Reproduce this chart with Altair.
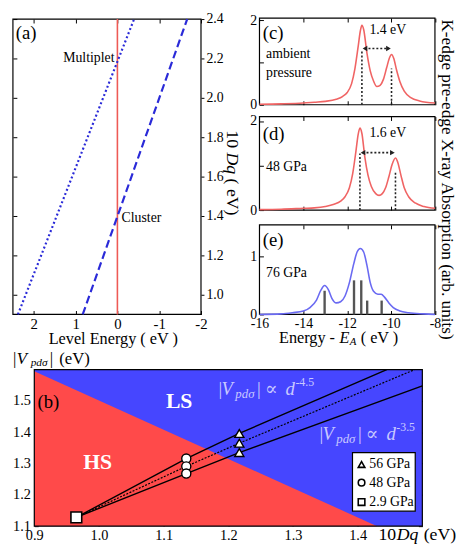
import altair as alt
import pandas as pd

SERIF = "Liberation Serif"
RED_LINE = "#ee5a55"
BLUE_LINE = "#2a2ad8"
SPEC_RED = "#f06464"
SPEC_BLUE = "#6a6af2"
BG_RED = "#ff4a4a"
BG_BLUE = "#4646ff"
LABEL_LAV = "#c9c9ff"

# ---------------- panel (a) ----------------
a_multiplet_energy = [2.38, -0.40]
a_multiplet_dq = [0.90, 2.40]
a_cluster_energy = [0.83, -1.67]
a_cluster_dq = [0.90, 2.40]
a_zero_energy = [0.0]
a_xticks = [2, 1, 0, -1, -2]
a_yticks = [1.0, 1.2, 1.4, 1.6, 1.8, 2.0, 2.2, 2.4]

# ---------------- panels (c), (d), (e) ----------------
spec_xticks = [-16, -14, -12, -10, -8]
c_energy = [-16, -15, -14, -13.5, -13, -12.5, -12.2, -12.0, -11.8, -11.65, -11.5, -11.4,
            -11.33, -11.25, -11.1, -10.95, -10.8, -10.65, -10.5, -10.35, -10.2, -10.08,
            -9.98, -9.88, -9.75, -9.6, -9.4, -9.1, -8.7, -8.0]
c_intensity = [0.01, 0.02, 0.04, 0.06, 0.08, 0.13, 0.20, 0.29, 0.50, 0.85, 1.38, 1.75,
               1.88, 1.78, 1.22, 0.80, 0.56, 0.43, 0.46, 0.60, 0.88, 1.10,
               1.19, 1.10, 0.82, 0.55, 0.32, 0.17, 0.09, 0.04]
c_peaks = [-11.33, -9.98]
c_peak_tops = [1.30, 0.86]
c_arrow_y = [1.33]

d_energy = [-16, -15, -14, -13.5, -13, -12.6, -12.3, -12.1, -11.9, -11.75, -11.6, -11.5,
            -11.42, -11.33, -11.2, -11.05, -10.9, -10.7, -10.55, -10.4, -10.25, -10.1,
            -9.95, -9.8, -9.7, -9.55, -9.4, -9.2, -8.9, -8.5, -8.0]
d_intensity = [0.01, 0.02, 0.04, 0.05, 0.08, 0.13, 0.20, 0.30, 0.50, 0.82, 1.33, 1.70,
               1.84, 1.72, 1.20, 0.78, 0.53, 0.37, 0.33, 0.37, 0.50, 0.75,
               1.03, 1.17, 1.08, 0.78, 0.50, 0.30, 0.16, 0.08, 0.04]
d_peaks = [-11.42, -9.80]
d_peak_tops = [1.27, 0.85]
d_arrow_y = [1.29]

e_energy = [-16, -15, -14.5, -14, -13.7, -13.4, -13.2, -13.03, -12.85, -12.7, -12.5, -12.3,
            -12.1, -11.9, -11.7, -11.55, -11.4, -11.25, -11.1, -10.95, -10.8, -10.6,
            -10.45, -10.3, -10.1, -9.9, -9.6, -9.2, -8.5, -8.0]
e_intensity = [0.0, 0.01, 0.03, 0.06, 0.12, 0.25, 0.42, 0.50, 0.42, 0.28, 0.20, 0.22,
               0.32, 0.55, 0.88, 1.08, 1.14, 1.08, 0.85, 0.55, 0.40, 0.35,
               0.35, 0.30, 0.20, 0.12, 0.06, 0.03, 0.01, 0.0]
e_stick_energy = [-13.03, -11.69, -11.36, -11.09, -10.43]
e_stick_height = [0.41, 0.59, 0.59, 0.24, 0.24]

# ---------------- panel (b) ----------------
b_xticks = [0.9, 1.0, 1.1, 1.2, 1.3, 1.4]
b_yticks = [1.1, 1.2, 1.3, 1.4, 1.5]
b_boundary_dq = [0.90, 1.43]
b_boundary_v = [1.595, 1.10]
b_upper_dq = [0.965, 1.135, 1.217, 1.445]
b_upper_v = [1.128, 1.316, 1.396, 1.60]
b_mid_dq = [0.965, 1.135, 1.217, 1.488]
b_mid_v = [1.128, 1.291, 1.365, 1.60]
b_lower_dq = [0.965, 1.135, 1.217, 1.50]
b_lower_v = [1.128, 1.268, 1.335, 1.548]
b_56_dq = [1.217, 1.217, 1.217]
b_56_v = [1.396, 1.365, 1.335]
b_48_dq = [1.135, 1.135, 1.135]
b_48_v = [1.316, 1.291, 1.268]
b_29_dq = [0.965]
b_29_v = [1.128]
legend_labels = ["56 GPa", "48 GPa", "2.9 GPa"]

# ---------------- layout (pixels inside one view) ----------------
W, H = 456, 542


def X(x):
    return round((x - 5) * 0.99, 1)


def Y(y):
    return round(y - 8, 1)


A_X0, A_X1, A_Y0, A_Y1 = X(10), X(203), Y(13), Y(313)
R_X0, R_X1 = X(263), X(443)
C_Y0, C_Y1 = Y(12), Y(100)
D_Y0, D_Y1 = Y(112), Y(207)
E_Y0, E_Y1 = Y(222), Y(313)
B_X0, B_X1, B_Y0, B_Y1 = X(32), X(430), Y(369), Y(528)


def df(x, y, **extra):
    d = {"x": x, "y": y}
    d.update(extra)
    return pd.DataFrame(d)


def lab_axis(orient, offset, values, fmt=None, expr=None, size=14, pad=3,
             ticks=False, tick_size=3):
    kw = dict(orient=orient, offset=offset, values=values, title=None, grid=False,
              domain=False, labelFont=SERIF, labelFontSize=size, labelPadding=pad,
              labelColor="black", ticks=ticks, labelFlush=False, labelOverlap=False)
    if ticks:
        kw.update(tickSize=tick_size, tickColor="black", tickWidth=1)
    if fmt:
        kw["format"] = fmt
    if expr:
        kw["labelExpr"] = expr
    return alt.Axis(**kw)


def tick_axis(orient, offset, values, size=4):
    return alt.Axis(orient=orient, offset=offset, values=values, title=None, grid=False,
                    domain=False, labels=False, ticks=True, tickSize=size,
                    tickColor="black", tickWidth=1)


def carrier(sx, sy, xv, yv, xaxis=None, yaxis=None):
    return alt.Chart(df([xv], [yv])).mark_point(opacity=0, size=1).encode(
        x=alt.X("x:Q", scale=sx, axis=xaxis), y=alt.Y("y:Q", scale=sy, axis=yaxis))


def ptext(x, y, t, size=16, angle=0, align="left", style="normal", weight="normal",
          color="black", font=SERIF, baseline="middle"):
    kw = dict(fontSize=size, align=align, baseline=baseline, fontStyle=style,
              fontWeight=weight, color=color, font=font)
    if angle:
        kw["angle"] = angle
    return alt.Chart(pd.DataFrame({"t": [t]})).mark_text(**kw).encode(
        x=alt.value(x), y=alt.value(y), text="t:N")


def dtext(sx, sy, x, y, t, size=14, align="left", color="black", style="normal",
          weight="normal", dx=0, dy=0, font=SERIF):
    return alt.Chart(df([x], [y], t=[t])).mark_text(
        fontSize=size, align=align, baseline="middle", font=font, color=color,
        fontStyle=style, fontWeight=weight, dx=dx, dy=dy).encode(
        x=alt.X("x:Q", scale=sx, axis=None), y=alt.Y("y:Q", scale=sy, axis=None),
        text="t:N")


def frame(sx, sy, x0, x1, y0, y1, fill="transparent"):
    return alt.Chart(pd.DataFrame({"x": [x0], "x2": [x1], "y": [y0], "y2": [y1]})).mark_rect(
        fill=fill, stroke="black", strokeWidth=1.2).encode(
        x=alt.X("x:Q", scale=sx, axis=None), x2="x2:Q",
        y=alt.Y("y:Q", scale=sy, axis=None), y2="y2:Q")


layers = []

# ================= panel (a) =================
sa_x = alt.Scale(domain=[-2, 2.5], range=[A_X1, A_X0])
sa_y = alt.Scale(domain=[0.9, 2.4], range=[A_Y1, A_Y0])
ax = lambda axis=None: alt.X("x:Q", scale=sa_x, axis=axis)
ay = lambda axis=None: alt.Y("y:Q", scale=sa_y, axis=axis)

layers += [
    frame(sa_x, sa_y, -2, 2.5, 0.9, 2.4),
    alt.Chart(df(a_zero_energy, [0.9], y2=[2.4])).mark_rule(
        color=RED_LINE, strokeWidth=1.6).encode(x=ax(), y=ay(), y2="y2:Q"),
    alt.Chart(df(a_multiplet_energy, a_multiplet_dq)).mark_line(
        color=BLUE_LINE, strokeWidth=2.2, strokeDash=[2, 2.5]).encode(x=ax(), y=ay()),
    alt.Chart(df(a_cluster_energy, a_cluster_dq)).mark_line(
        color=BLUE_LINE, strokeWidth=2.2, strokeDash=[8, 4]).encode(x=ax(), y=ay()),
    carrier(sa_x, sa_y, 0, 1.0,
            xaxis=lab_axis("bottom", A_Y1 - H, a_xticks, expr="'' + datum.value", size=15,
                           pad=2),
            yaxis=lab_axis("right", A_X1 - W, a_yticks, fmt=".1f", size=14, pad=2,
                           ticks=True, tick_size=3)),
    carrier(sa_x, sa_y, 0, 1.0,
            xaxis=tick_axis("top", -A_Y1, a_xticks),
            yaxis=tick_axis("right", A_X0 - W, a_yticks)),
    carrier(sa_x, sa_y, 0, 1.0, xaxis=tick_axis("bottom", A_Y0 - H, a_xticks)),
    dtext(sa_x, sa_y, 2.43, 2.33, "(a)", size=19),
    dtext(sa_x, sa_y, 0.07, 2.20, "Multiplet", align="right"),
    dtext(sa_x, sa_y, -0.10, 1.39, "Cluster"),
    ptext(X(113), Y(338), "Level Energy ( eV )", size=16.5, align="center"),
    ptext(X(235), Y(126), "10", size=18, angle=90),
    ptext(X(235), Y(126) + 22.5, "Dq", size=18, angle=90, style="italic"),
    ptext(X(235), Y(126) + 49, "( eV)", size=18, angle=90),
]


# ================= spectra panels =================
def spectrum(energy, inten, color, y0, y1, ymax, yticks, peaks=None, tops=None,
             arrow_y=None, bottom_labels=False):
    sx = alt.Scale(domain=[-16, -8], range=[R_X0, R_X1])
    sy = alt.Scale(domain=[0, ymax], range=[y1, y0])
    out = [
        frame(sx, sy, -16, -8, 0, ymax),
        alt.Chart(df(energy, inten)).mark_line(
            color=color, strokeWidth=1.6, interpolate="monotone").encode(
            x=alt.X("x:Q", scale=sx, axis=None), y=alt.Y("y:Q", scale=sy, axis=None)),
        carrier(sx, sy, -12, 0,
                xaxis=(lab_axis("bottom", y1 - H, spec_xticks, expr="'' + datum.value",
                                size=14, pad=2) if bottom_labels else None),
                yaxis=lab_axis("left", -R_X0, yticks, fmt="d", size=14, pad=3)),
        carrier(sx, sy, -12, 0, xaxis=tick_axis("top", -y1, spec_xticks),
                yaxis=tick_axis("right", R_X0 - W, yticks)),
        carrier(sx, sy, -12, 0, xaxis=tick_axis("bottom", y0 - H, spec_xticks)),
    ]
    if peaks:
        enc = dict(x=alt.X("x:Q", scale=sx, axis=None), y=alt.Y("y:Q", scale=sy, axis=None))
        out += [
            alt.Chart(pd.DataFrame({"x": peaks, "y": [0, 0], "y2": tops})).mark_rule(
                color="#222222", strokeWidth=1.6, strokeDash=[2, 2]).encode(y2="y2:Q", **enc),
            alt.Chart(pd.DataFrame({"x": [peaks[0] + 0.12], "x2": [peaks[1] - 0.12],
                                    "y": arrow_y})).mark_rule(
                color="#222222", strokeWidth=1.6, strokeDash=[2, 2]).encode(x2="x2:Q", **enc),
            alt.Chart(pd.DataFrame({"x": [peaks[0] + 0.14, peaks[1] - 0.14],
                                    "y": arrow_y * 2,
                                    "sh": ["triangle-left", "triangle-right"]})).mark_point(
                filled=True, color="#222222", size=30, opacity=1).encode(
                shape=alt.Shape("sh:N", scale=None, legend=None), **enc),
        ]
    return sx, sy, out


sc_x, sc_y, lc = spectrum(c_energy, c_intensity, SPEC_RED, C_Y0, C_Y1, 2.05, [0, 1, 2],
                          c_peaks, c_peak_tops, c_arrow_y)
layers += lc + [
    dtext(sc_x, sc_y, -15.85, 1.70, "(c)", size=19),
    dtext(sc_x, sc_y, -15.7, 1.19, "ambient"),
    dtext(sc_x, sc_y, -15.7, 0.76, "pressure"),
    dtext(sc_x, sc_y, -10.15, 1.76, "1.4 eV", align="center"),
]

sd_x, sd_y, ld = spectrum(d_energy, d_intensity, SPEC_RED, D_Y0, D_Y1, 2.1, [0, 1, 2],
                          d_peaks, d_peak_tops, d_arrow_y)
layers += ld + [
    dtext(sd_x, sd_y, -15.85, 1.70, "(d)", size=19),
    dtext(sd_x, sd_y, -15.7, 0.97, "48 GPa"),
    dtext(sd_x, sd_y, -10.15, 1.72, "1.6 eV", align="center"),
]

se_x, se_y, le = spectrum(e_energy, e_intensity, SPEC_BLUE, E_Y0, E_Y1, 1.55, [0, 1],
                          bottom_labels=True)
layers += le + [
    alt.Chart(pd.DataFrame({"x": e_stick_energy, "y": [0] * 5,
                            "y2": e_stick_height})).mark_rule(
        color="#555555", strokeWidth=2.4).encode(
        x=alt.X("x:Q", scale=se_x, axis=None), y=alt.Y("y:Q", scale=se_y, axis=None),
        y2="y2:Q"),
    dtext(se_x, se_y, -15.85, 1.28, "(e)", size=19),
    dtext(se_x, se_y, -15.7, 0.71, "76 GPa"),
]
ex0 = X(283)
ey = Y(337)
layers += [
    ptext(ex0, ey, "Energy -", size=16.5),
    ptext(ex0 + 61.5, ey, "E", size=16.5, style="italic"),
    ptext(ex0 + 72, ey + 4, "A", size=11, style="italic"),
    ptext(ex0 + 83, ey, "( eV )", size=16.5),
    ptext(X(455.5), Y(176), "K-edge pre-edge X-ray Absorption (arb. units)", size=17.5,
          angle=90, align="center"),
]

# ================= panel (b) =================
sb_x = alt.Scale(domain=[0.9, 1.5], range=[B_X0, B_X1])
sb_y = alt.Scale(domain=[1.1, 1.6], range=[B_Y1, B_Y0])
bx = lambda: alt.X("x:Q", scale=sb_x, axis=None)
by = lambda: alt.Y("y:Q", scale=sb_y, axis=None)

layers += [
    alt.Chart(pd.DataFrame({"x": [0.9], "x2": [1.5], "y": [1.1], "y2": [1.6]})).mark_rect(
        color=BG_BLUE).encode(x=bx(), x2="x2:Q", y=by(), y2="y2:Q"),
    alt.Chart(df(b_boundary_dq, b_boundary_v, y2=[1.1, 1.1])).mark_area(
        color=BG_RED, opacity=1).encode(x=bx(), y=by(), y2="y2:Q"),
    alt.Chart(df(b_upper_dq, b_upper_v)).mark_line(
        color="black", strokeWidth=1.4).encode(x=bx(), y=by()),
    alt.Chart(df(b_mid_dq, b_mid_v)).mark_line(
        color="black", strokeWidth=1.2, strokeDash=[2, 1.5]).encode(x=bx(), y=by()),
    alt.Chart(df(b_lower_dq, b_lower_v)).mark_line(
        color="black", strokeWidth=1.4).encode(x=bx(), y=by()),
    alt.Chart(df(b_56_dq, b_56_v)).mark_point(
        shape="triangle-up", filled=True, fill="#fffff0", stroke="black", strokeWidth=1.4,
        size=85, opacity=1).encode(x=bx(), y=by()),
    alt.Chart(df(b_48_dq, b_48_v)).mark_point(
        shape="circle", filled=True, fill="white", stroke="black", strokeWidth=1.4,
        size=85, opacity=1).encode(x=bx(), y=by()),
    alt.Chart(df(b_29_dq, b_29_v)).mark_point(
        shape="square", filled=True, fill="white", stroke="black", strokeWidth=1.6,
        size=120, opacity=1).encode(x=bx(), y=by()),
    frame(sb_x, sb_y, 1.392, 1.489, 1.148, 1.335, fill="white"),
    alt.Chart(pd.DataFrame({"x": [1.406] * 3, "y": [1.297, 1.239, 1.177],
                            "sh": ["triangle-up", "circle", "square"]})).mark_point(
        filled=False, color="black", strokeWidth=1.6, size=45, opacity=1).encode(
        x=bx(), y=by(), shape=alt.Shape("sh:N", scale=None, legend=None)),
    alt.Chart(pd.DataFrame({"x": [1.418] * 3, "y": [1.297, 1.239, 1.177],
                            "t": legend_labels})).mark_text(
        fontSize=14, align="left", baseline="middle", font=SERIF).encode(
        x=bx(), y=by(), text="t:N"),
    frame(sb_x, sb_y, 0.9, 1.5, 1.1, 1.6),
    carrier(sb_x, sb_y, 1.2, 1.3,
            xaxis=lab_axis("bottom", B_Y1 - H, b_xticks, fmt=".1f", size=14.5, pad=3),
            yaxis=lab_axis("left", -B_X0, b_yticks, fmt=".1f", size=14.5, pad=4)),
    carrier(sb_x, sb_y, 1.2, 1.3, xaxis=tick_axis("top", -B_Y1, b_xticks),
            yaxis=tick_axis("right", B_X0 - W, b_yticks)),
    carrier(sb_x, sb_y, 1.2, 1.3, xaxis=tick_axis("bottom", B_Y0 - H, b_xticks),
            yaxis=tick_axis("left", -B_X1, b_yticks)),
    dtext(sb_x, sb_y, 1.124, 1.50, "LS", size=22, weight="bold", color="white", align="center"),
    dtext(sb_x, sb_y, 0.998, 1.303, "HS", size=22, weight="bold", color="white", align="center"),
    dtext(sb_x, sb_y, 0.905, 1.497, "(b)", size=19),
]


def formula(x, y, exp):
    parts = [("|", 0, 0, 19, "normal", SERIF), ("V", 3, 0, 19, "italic", SERIF),
             ("pdσ", 17, 5, 13, "italic", SERIF), ("|", 39, 0, 19, "normal", SERIF),
             ("∝", 47, 0, 19, "normal", "DejaVu Serif"), ("d", 68, 0, 19, "italic", SERIF),
             (exp, 78, -7, 12, "normal", SERIF)]
    return [dtext(sb_x, sb_y, x, y, t, size=s, style=st, font=f, color=LABEL_LAV,
                  dx=dx, dy=dy) for t, dx, dy, s, st, f in parts]


layers += formula(1.185, 1.537, "-4.5") + formula(1.341, 1.394, "-3.5")

ty = Y(358)
tx = X(10)
layers += [
    ptext(tx, ty, "|", size=17),
    ptext(tx + 4, ty, "V", size=17, style="italic"),
    ptext(tx + 18, ty + 4, "pdσ", size=11.5, style="italic"),
    ptext(tx + 37.5, ty, "|", size=17),
    ptext(tx + 47, ty, "(eV)", size=17),
    ptext(X(385), Y(537), "10", size=18),
    ptext(X(385) + 18.5, Y(537), "Dq", size=18, style="italic"),
    ptext(X(385) + 46, Y(537), "(eV)", size=18),
]

chart = alt.layer(*layers).resolve_scale(
    x="independent", y="independent"
).properties(
    width=W, height=H, padding={"left": 0, "top": 0, "right": 0, "bottom": 0}
).configure_view(
    stroke="transparent"
).configure_text(font=SERIF)

chart.save("out.html", embed_options={"renderer": "svg", "actions": False})
